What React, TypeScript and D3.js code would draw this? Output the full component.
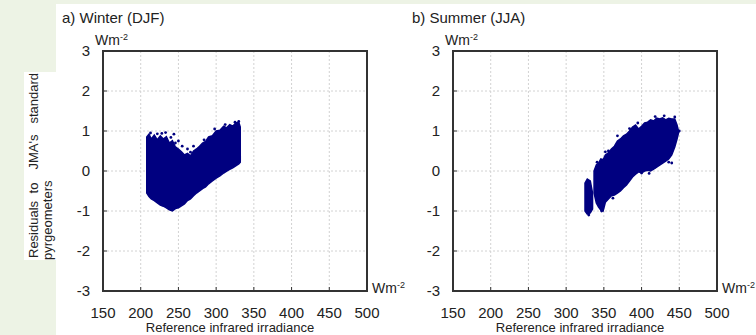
import React from "react";
import * as d3 from "d3";

// axis ticks
const xTicks = [150, 200, 250, 300, 350, 400, 450, 500];
const yTicks = [-3, -2, -1, 0, 1, 2, 3];

// winter (DJF): envelope of the dense point cloud
const winterX = [208, 211, 214, 218, 222, 226, 230, 234, 238, 242, 246, 250, 254, 258, 262, 266,
  270, 274, 278, 282, 286, 290, 295, 300, 305, 310, 314, 318, 322, 326, 330, 332];
const winterTop = [0.85, 0.92, 0.8, 0.9, 0.78, 0.88, 0.8, 0.86, 0.7, 0.76, 0.6, 0.55, 0.48, 0.4, 0.44, 0.38,
  0.5, 0.55, 0.62, 0.7, 0.74, 0.85, 0.88, 1.0, 1.02, 1.12, 1.08, 1.16, 1.12, 1.2, 1.22, 1.1];
const winterBottom = [-0.55, -0.64, -0.7, -0.74, -0.8, -0.85, -0.88, -0.92, -0.97, -1.0, -0.94, -0.92, -0.87, -0.82, -0.74, -0.7,
  -0.62, -0.55, -0.5, -0.44, -0.4, -0.32, -0.25, -0.18, -0.12, -0.05, 0.0, 0.04, 0.08, 0.13, 0.18, 0.22];
// loose points around the cloud
const winterDotX = [213, 222, 233, 244, 250, 255, 262, 270, 298, 312, 325, 330, 218, 228, 240, 246, 266, 284];
const winterDotY = [0.95, 0.93, 0.96, 0.92, 0.75, 0.62, 0.55, 0.62, 1.05, 1.16, 1.22, 1.24, 0.82, 0.94, 0.84, 0.7, 0.47, 0.78];

// summer (JJA): narrow column near 330 plus main band
const summerColX = [325, 328, 332, 335];
const summerColTop = [-0.3, -0.2, -0.25, -0.55];
const summerColBottom = [-1.0, -1.08, -1.05, -0.95];
const summerX = [337, 340, 343, 346, 349, 352, 356, 360, 364, 368, 372, 376, 380, 384, 388, 392,
  396, 400, 404, 408, 412, 416, 420, 424, 428, 432, 436, 440, 444, 447, 449];
const summerTop = [0.0, 0.15, 0.2, 0.3, 0.28, 0.4, 0.45, 0.55, 0.62, 0.75, 0.8, 0.88, 0.92, 1.0, 1.1, 1.15,
  1.05, 1.12, 1.2, 1.22, 1.28, 1.25, 1.32, 1.3, 1.33, 1.28, 1.32, 1.3, 1.3, 1.15, 1.0];
const summerBottom = [-0.55, -0.8, -0.9, -0.98, -1.0, -0.78, -0.7, -0.62, -0.6, -0.55, -0.5, -0.42, -0.35, -0.25, -0.15, -0.08,
  -0.02, -0.05, 0.0, 0.02, 0.0, 0.05, 0.1, 0.15, 0.2, 0.25, 0.3, 0.4, 0.6, 0.8, 0.95];
const summerDotX = [347, 341, 356, 368, 395, 418, 430, 444, 450, 440, 418, 400, 330, 362, 352, 384, 410, 436];
const summerDotY = [-1.0, 0.22, 0.5, 0.88, 1.2, 1.36, 1.38, 1.35, 1.0, 0.2, 0.1, -0.05, -1.1, -0.68, 0.48, 1.06, -0.06, 0.22];

const NAVY = "#000080";
const FONT = "Liberation Sans, Arial, sans-serif";
const TOP = 51;
const W = 264;
const H = 240;

type Cloud = { xs: number[]; top: number[]; bottom: number[] };

function Panel({ left, title, clouds, dotX, dotY }: {
  left: number; title: string; clouds: Cloud[]; dotX: number[]; dotY: number[];
}) {
  const x = d3.scaleLinear().domain([150, 500]).range([left, left + W]);
  const y = d3.scaleLinear().domain([-3, 3]).range([TOP + H, TOP]);

  return (
    <g fontFamily={FONT}>
      <text x={left - 41} y={23} fontSize={15} fill="#222">{title}</text>
      {/* grid */}
      {xTicks.slice(1, -1).map((t) => (
        <line key={"gx" + t} x1={x(t)} x2={x(t)} y1={TOP} y2={TOP + H}
          stroke="#d2d2d2" strokeDasharray="2,2" />
      ))}
      {yTicks.slice(1, -1).map((t) => (
        <line key={"gy" + t} x1={left} x2={left + W} y1={y(t)} y2={y(t)}
          stroke="#d2d2d2" strokeDasharray="2,2" />
      ))}
      {/* data */}
      {clouds.map((c, k) => {
        const area = d3.area<number>()
          .x((_, i) => x(c.xs[i]))
          .y0((_, i) => y(c.bottom[i]))
          .y1((_, i) => y(c.top[i]));
        return <path key={k} d={area(c.xs) || ""} fill={NAVY} stroke={NAVY} strokeWidth={1.5} />;
      })}
      {dotX.map((v, i) => (
        <circle key={i} cx={x(v)} cy={y(dotY[i])} r={1.4} fill={NAVY} />
      ))}
      {/* ticks */}
      {yTicks.slice(1, -1).map((t) => (
        <line key={"ty" + t} x1={left} x2={left + 4} y1={y(t)} y2={y(t)} stroke="#333" />
      ))}
      {xTicks.slice(1, -1).map((t) => (
        <line key={"tx" + t} x1={x(t)} x2={x(t)} y1={TOP + H} y2={TOP + H - 4} stroke="#333" />
      ))}
      <rect x={left} y={TOP} width={W} height={H} fill="none" stroke="#333" strokeWidth={2} />
      {/* tick labels */}
      {yTicks.map((t) => (
        <text key={"ly" + t} x={left - 13} y={y(t)} dy="0.36em" textAnchor="end" fontSize={15} fill="#222">
          {t}
        </text>
      ))}
      {xTicks.map((t) => (
        <text key={"lx" + t} x={x(t)} y={318} textAnchor="middle" fontSize={15} fill="#222">
          {t}
        </text>
      ))}
      {/* units */}
      <text x={left - 8} y={45} fontSize={14} fill="#222">
        Wm<tspan fontSize={9} dy={-5}>-2</tspan>
      </text>
      <text x={left + W + 5} y={293} fontSize={14} fill="#222">
        Wm<tspan fontSize={9} dy={-5}>-2</tspan>
      </text>
      <text x={left + W / 2 - 5} y={332} textAnchor="middle" fontSize={13} fill="#222">
        Reference infrared irradiance
      </text>
    </g>
  );
}

export default function App() {
  return (
    <svg width={756} height={335} style={{ position: "absolute", left: 0, top: 0 }}>
      <rect x={0} y={0} width={756} height={335} fill="#edf3e5" />
      <rect x={56} y={4} width={700} height={331} fill="#fff" />
      <rect x={24} y={72} width={32} height={188} fill="#fff" />
      <g transform="rotate(-90)" fontFamily={FONT} fontSize={13} fill="#222">
        <text x={-258} y={38}>Residuals</text>
        <text x={-188} y={38} textAnchor="middle">to</text>
        <text x={-152} y={38} textAnchor="middle">JMA's</text>
        <text x={-73} y={38} textAnchor="end">standard</text>
        <text x={-260} y={52}>pyrgeometers</text>
      </g>
      <Panel left={103} title="a) Winter (DJF)"
        clouds={[{ xs: winterX, top: winterTop, bottom: winterBottom }]}
        dotX={winterDotX} dotY={winterDotY} />
      <Panel left={453} title="b) Summer (JJA)"
        clouds={[
          { xs: summerColX, top: summerColTop, bottom: summerColBottom },
          { xs: summerX, top: summerTop, bottom: summerBottom },
        ]}
        dotX={summerDotX} dotY={summerDotY} />
    </svg>
  );
}
